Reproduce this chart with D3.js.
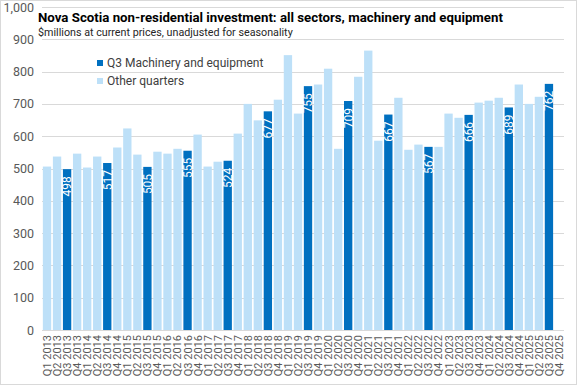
<!DOCTYPE html>
<html>
<head>
<meta charset="utf-8">
<script src="https://cdn.jsdelivr.net/npm/d3@7"></script>
<style>
  html, body { margin: 0; padding: 0; background: #fff; }
  svg { display: block; font-family: "Liberation Sans Narrow", "Roboto", sans-serif; }
</style>
</head>
<body>
<svg id="chart"></svg>
<script>
// quarters Q1 2013 .. Q4 2025
const years = d3.range(2013, 2026);
const quarters = years.flatMap(y => [1, 2, 3, 4].map(q => `Q${q} ${y}`));

// $ millions, Q4 2025 not yet available
const values = [
  506, 537, 498, 546,
  503, 537, 517, 565,
  624, 543, 505, 552,
  546, 561, 555, 605,
  506, 521, 524, 608,
  700, 649, 677, 713,
  851, 670, 755, 760,
  809, 561, 709, 784,
  865, 586, 667, 719,
  558, 574, 567, 567,
  670, 657, 666, 704,
  710, 719, 689, 760,
  700, 722, 762, null
];

const yTicks = [0, 100, 200, 300, 400, 500, 600, 700, 800, 900, 1000];
const legendItems = ["Q3 Machinery and equipment", "Other quarters"];

const W = 577, H = 385;
const margin = { top: 7, right: 13, bottom: 55, left: 42 };
const darkBlue = "#0070C0", lightBlue = "#BDE0F8";

const svg = d3.select("#chart").attr("width", W).attr("height", H);

// chart area border
svg.append("rect")
  .attr("x", 0.5).attr("y", 0.5)
  .attr("width", W - 1).attr("height", H - 1)
  .attr("fill", "#fff").attr("stroke", "#d9d9d9");

const x = d3.scaleBand()
  .domain(quarters)
  .range([margin.left, W - margin.right])
  .paddingInner(0.17).paddingOuter(0.085);

const y = d3.scaleLinear()
  .domain([0, 1000])
  .range([H - margin.bottom, margin.top]);

// gridlines
svg.append("g")
  .selectAll("line")
  .data(yTicks)
  .join("line")
  .attr("x1", margin.left).attr("x2", W - margin.right)
  .attr("y1", d => Math.round(y(d)) + 0.5).attr("y2", d => Math.round(y(d)) + 0.5)
  .attr("stroke", "#d9d9d9");

// y axis labels
const yAxis = svg.append("g")
  .attr("transform", `translate(${margin.left - 8},0)`)
  .call(d3.axisLeft(y).tickValues(yTicks).tickFormat(d3.format(",")).tickSize(0).tickPadding(0));
yAxis.select(".domain").remove();
yAxis.selectAll("text")
  .attr("fill", "#595959")
  .style("font-size", "12.5px")
  .style("font-family", "Liberation Sans Narrow, Roboto, sans-serif");

// bars
const data = quarters.map((q, i) => ({ q, v: values[i], q3: q.startsWith("Q3") }))
  .filter(d => d.v != null);

svg.append("g")
  .selectAll("rect")
  .data(data)
  .join("rect")
  .attr("x", d => x(d.q))
  .attr("width", x.bandwidth())
  .attr("y", d => y(d.v))
  .attr("height", d => y(0) - y(d.v))
  .attr("fill", d => d.q3 ? darkBlue : lightBlue);

// value labels on Q3 bars, rotated, inside end
svg.append("g")
  .selectAll("text")
  .data(data.filter(d => d.q3))
  .join("text")
  .attr("transform", d => `translate(${x(d.q) + x.bandwidth() / 2},${y(d.v) + 7}) rotate(-90)`)
  .attr("text-anchor", "end")
  .attr("dy", "0.36em")
  .attr("fill", "#fff")
  .style("font-size", "12px")
  .text(d => d.v);

// x axis labels
svg.append("g")
  .selectAll("text")
  .data(quarters)
  .join("text")
  .attr("transform", d => `translate(${x(d) + x.bandwidth() / 2},${y(0) + 5}) rotate(-90)`)
  .attr("text-anchor", "end")
  .attr("dy", "0.36em")
  .attr("fill", "#595959")
  .style("font-size", "11px")
  .text(d => d);

// title + subtitle, font size fitted to the reference width
function fitText(sel, width, maxSize) {
  const len = sel.node().getComputedTextLength();
  const size = parseFloat(sel.style("font-size"));
  sel.style("font-size", Math.min(maxSize, size * width / len) + "px");
}

const title = svg.append("text")
  .attr("x", 38).attr("y", 22)
  .attr("fill", "#000")
  .style("font-size", "16px").style("font-weight", "bold")
  .text("Nova Scotia non-residential  investment: all sectors, machinery and equipment");
fitText(title, 465, 18);

const subtitle = svg.append("text")
  .attr("x", 38).attr("y", 36)
  .attr("fill", "#262626")
  .style("font-size", "12px")
  .text("$millions at current prices, unadjusted for seasonality");
fitText(subtitle, 255, 13);

// legend
const legend = svg.append("g").attr("transform", "translate(97,59)");
const li = legend.selectAll("g")
  .data(legendItems)
  .join("g")
  .attr("transform", (d, i) => `translate(0,${i * 18})`);
li.append("rect")
  .attr("width", 6).attr("height", 6).attr("y", 1)
  .attr("fill", (d, i) => i === 0 ? darkBlue : lightBlue);
li.append("text")
  .attr("x", 10).attr("y", 4).attr("dy", "0.36em")
  .attr("fill", "#404040")
  .style("font-size", "12px")
  .text(d => d);
</script>
</body>
</html>
